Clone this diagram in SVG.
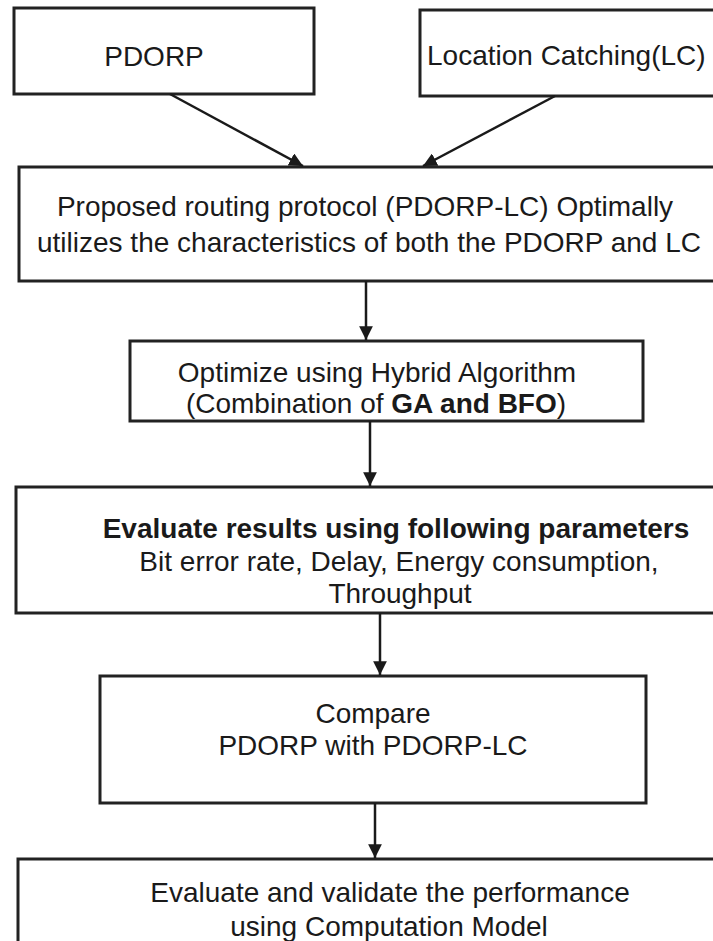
<svg xmlns="http://www.w3.org/2000/svg" width="713" height="941" viewBox="0 0 713 941">
<defs>
<style>
.box{fill:#fff;stroke:#222;stroke-width:3}
.t{font-family:"Liberation Sans",Arial,sans-serif;font-size:28px;fill:#1a1a1a}
.b{font-weight:bold}
.c{stroke:#1a1a1a;stroke-width:2.5;fill:none}
</style>
<marker id="ah" viewBox="0 0 10 10" refX="10" refY="5" markerWidth="5.5" markerHeight="5.5" markerUnits="strokeWidth" orient="auto">
<path d="M0,0 L10,5 L0,10 z" fill="#1a1a1a"/>
</marker>
</defs>
<rect width="713" height="941" fill="#fff"/>
<g id="n1"><rect class="box" x="14" y="8" width="300" height="86"/><text class="t" x="154" y="66" text-anchor="middle">PDORP</text></g>
<g id="n2"><rect class="box" x="420" y="10" width="300" height="86"/><text class="t" x="427" y="65">Location Catching(LC)</text></g>
<g id="n3"><rect class="box" x="19" y="167" width="700" height="114"/><text class="t" x="365" y="216" text-anchor="middle">Proposed routing protocol (PDORP-LC) Optimally</text><text class="t" x="369" y="252" text-anchor="middle">utilizes the characteristics of both the PDORP and LC</text></g>
<g id="n4"><rect class="box" x="130" y="341" width="513" height="80"/><text class="t" x="377" y="382" text-anchor="middle">Optimize using Hybrid Algorithm</text><text class="t" x="376" y="413" text-anchor="middle">(Combination of <tspan class="b">GA and BFO</tspan>)</text></g>
<g id="n5"><rect class="box" x="16" y="487" width="700" height="126"/><text class="t b" x="396" y="538" text-anchor="middle">Evaluate results using following parameters</text><text class="t" x="399" y="571" text-anchor="middle">Bit error rate, Delay, Energy consumption,</text><text class="t" x="400" y="603" text-anchor="middle">Throughput</text></g>
<g id="n6"><rect class="box" x="100" y="676" width="546" height="127"/><text class="t" x="373" y="723" text-anchor="middle">Compare</text><text class="t" x="373" y="755" text-anchor="middle">PDORP with PDORP-LC</text></g>
<g id="n7"><rect class="box" x="18" y="859" width="700" height="90"/><text class="t" x="390" y="902" text-anchor="middle">Evaluate and validate the performance</text><text class="t" x="389" y="936" text-anchor="middle">using Computation Model</text></g>
<g id="connectors">
<line class="c" x1="170" y1="94" x2="303" y2="166" marker-end="url(#ah)"/>
<line class="c" x1="555" y1="96" x2="423" y2="166" marker-end="url(#ah)"/>
<line class="c" x1="366" y1="281" x2="366" y2="340" marker-end="url(#ah)"/>
<line class="c" x1="370" y1="421" x2="370" y2="486" marker-end="url(#ah)"/>
<line class="c" x1="380" y1="613" x2="380" y2="675" marker-end="url(#ah)"/>
<line class="c" x1="375" y1="803" x2="375" y2="858" marker-end="url(#ah)"/>
</g>
</svg>
